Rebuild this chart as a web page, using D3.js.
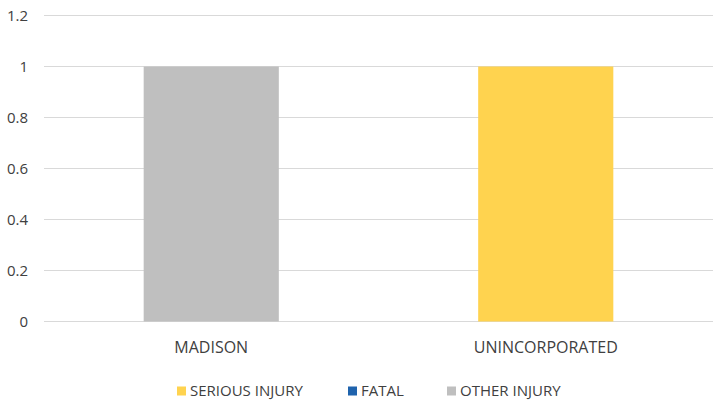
<!DOCTYPE html>
<html>
<head>
<meta charset="utf-8">
<script src="https://cdn.jsdelivr.net/npm/d3@7"></script>
<style>
  body { margin: 0; background: #fff; }
  text { font-family: "Open Sans", "Liberation Sans", sans-serif; fill: #404040; }
</style>
</head>
<body>
<div id="chart"></div>
<script>
// chart data
const cities = ["MADISON", "UNINCORPORATED"];
const seriesNames = ["SERIOUS INJURY", "FATAL", "OTHER INJURY"];
const seriousInjury = [0, 1];
const fatal = [0, 0];
const otherInjury = [1, 0];
const yTicks = [0, 0.2, 0.4, 0.6, 0.8, 1, 1.2];

const colors = ["#FFD34F", "#1F63AD", "#BFBFBF"];

const width = 713, height = 403;
const margin = {top: 15.5, right: 0, bottom: 81.5, left: 44};

const svg = d3.select("#chart").append("svg")
  .attr("width", width)
  .attr("height", height);

const x = d3.scaleBand()
  .domain(cities)
  .range([margin.left, width - margin.right])
  .paddingInner(0.596)
  .paddingOuter(0.298);

const y = d3.scaleLinear()
  .domain([0, 1.2])
  .range([height - margin.bottom, margin.top]);

// grid lines
svg.append("g")
  .selectAll("line")
  .data(yTicks)
  .join("line")
  .attr("x1", margin.left)
  .attr("x2", width - margin.right)
  .attr("y1", d => y(d))
  .attr("y2", d => y(d))
  .attr("stroke", "#D9D9D9")
  .attr("stroke-width", 1);

// y tick labels
svg.append("g")
  .selectAll("text")
  .data(yTicks)
  .join("text")
  .attr("x", 28)
  .attr("y", d => y(d))
  .attr("dy", "0.35em")
  .attr("text-anchor", "end")
  .style("font-size", "15px")
  .text(d => d);

// stacked data
const rows = cities.map((c, i) => ({
  city: c,
  "SERIOUS INJURY": seriousInjury[i],
  "FATAL": fatal[i],
  "OTHER INJURY": otherInjury[i]
}));
const stacked = d3.stack().keys(seriesNames)(rows);

svg.append("g")
  .selectAll("g")
  .data(stacked)
  .join("g")
  .attr("fill", (d, i) => colors[i])
  .selectAll("rect")
  .data(d => d)
  .join("rect")
  .attr("x", d => x(d.data.city))
  .attr("width", x.bandwidth())
  .attr("y", d => y(d[1]))
  .attr("height", d => y(d[0]) - y(d[1]));

// x labels
svg.append("g")
  .selectAll("text")
  .data(cities)
  .join("text")
  .attr("x", d => x(d) + x.bandwidth() / 2)
  .attr("y", 347)
  .attr("dy", "0.35em")
  .attr("text-anchor", "middle")
  .style("font-size", "16px")
  .text(d => d);

// legend
const legendX = [177, 348, 447];
const legend = svg.append("g")
  .selectAll("g")
  .data(seriesNames)
  .join("g")
  .attr("transform", (d, i) => `translate(${legendX[i]},391)`);

legend.append("rect")
  .attr("x", 0)
  .attr("y", -4.5)
  .attr("width", 9)
  .attr("height", 9)
  .attr("fill", (d, i) => colors[i]);

legend.append("text")
  .attr("x", 13)
  .attr("y", 0)
  .attr("dy", "0.35em")
  .style("font-size", "15px")
  .text(d => d);
</script>
</body>
</html>
